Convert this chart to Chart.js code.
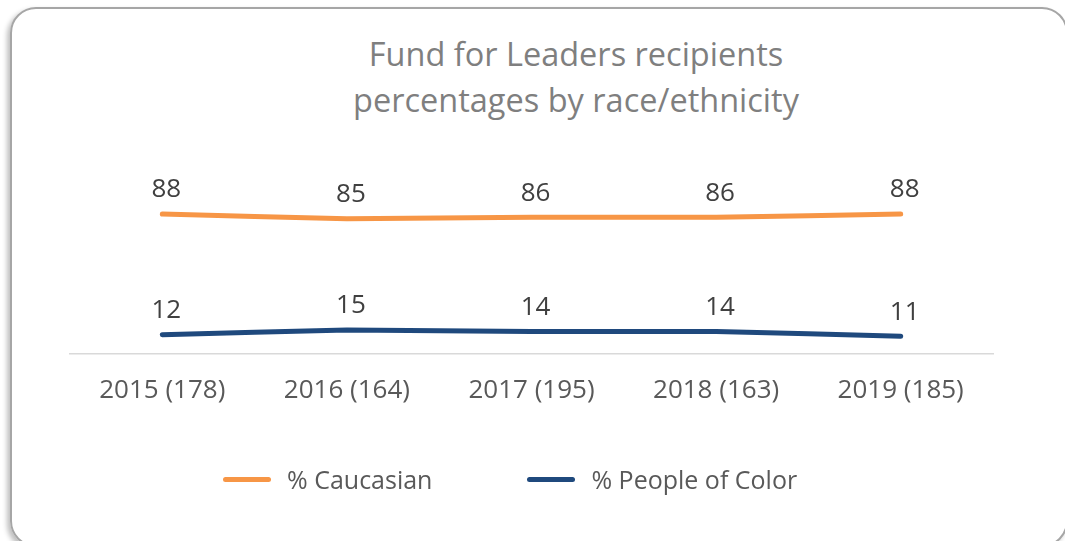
<!DOCTYPE html>
<html>
<head>
<meta charset="utf-8">
<script src="https://cdn.jsdelivr.net/npm/chart.js@4"></script>
<style>
  html, body { margin: 0; padding: 0; background: #fff; }
  body { width: 1065px; height: 541px; position: relative; overflow: hidden; font-family: "Open Sans", sans-serif; }
  .frame {
    position: absolute; left: 10px; top: 7px; width: 1058px; height: 540px;
    border: 2px solid #a6a6a6; border-radius: 26px; box-sizing: border-box;
    box-shadow: -3px 3px 5px rgba(0,0,0,0.25);
  }
  .title {
    position: absolute; left: 226px; width: 700px; top: 31px; text-align: center;
    color: #7f7f7f; font-size: 32.5px; line-height: 46px;
  }
  .wrap { position: absolute; left: 0; top: 0; width: 1065px; height: 541px; }
  #legend { position: absolute; top: 462px; left: 223px; display: flex; align-items: center; color: #595959; font-size: 25px; }
  #legend .item { display: flex; align-items: center; margin-right: 95px; }
  #legend .line { width: 48px; height: 5px; border-radius: 3px; margin-right: 16px; }
</style>
</head>
<body>
<div class="frame"></div>
<div class="title">Fund for Leaders recipients<br>percentages by race/ethnicity</div>
<div class="wrap"><canvas id="raceChart"></canvas></div>
<div id="legend"></div>
<script>
const categories = ["2015 (178)", "2016 (164)", "2017 (195)", "2018 (163)", "2019 (185)"];
const caucasian = [88, 85, 86, 86, 88];
const peopleOfColor = [12, 15, 14, 14, 11];

// little plugin to write the value above each point
const valueLabels = {
  id: "valueLabels",
  afterDatasetsDraw(chart) {
    const ctx = chart.ctx;
    ctx.save();
    ctx.font = "26px 'Open Sans'";
    ctx.fillStyle = "#404040";
    ctx.textAlign = "center";
    ctx.textBaseline = "middle";
    chart.data.datasets.forEach(function (ds, i) {
      chart.getDatasetMeta(i).data.forEach(function (pt, j) {
        ctx.fillText(ds.data[j], pt.x + 4, pt.y - 24);
      });
    });
    ctx.restore();
  }
};

document.addEventListener("DOMContentLoaded", function () {
  const ctx = document.getElementById("raceChart");
  const chart = new Chart(ctx, {
    type: "line",
    data: {
      labels: categories,
      datasets: [
        {
          label: "% Caucasian",
          data: caucasian,
          borderColor: "#f79646",
          backgroundColor: "#f79646",
        },
        {
          label: "% People of Color",
          data: peopleOfColor,
          borderColor: "#1f497d",
          backgroundColor: "#1f497d",
        },
      ],
    },
    options: {
      responsive: true,
      maintainAspectRatio: false,
      animation: false,
      layout: { padding: { left: 70, right: 72, top: 195, bottom: 122 } },
      elements: {
        line: { borderWidth: 5, tension: 0.1, borderCapStyle: "round", borderJoinStyle: "round" },
        point: { radius: 0, hoverRadius: 0 },
      },
      scales: {
        x: {
          offset: true,
          grid: { display: false },
          border: { color: "#d9d9d9", width: 1.5 },
          ticks: { color: "#595959", font: { family: "Open Sans", size: 26 }, padding: 13 },
        },
        y: {
          display: false,
          min: 0,
          max: 100,
        },
      },
      plugins: {
        legend: { display: false },
        tooltip: { enabled: false },
      },
    },
    plugins: [valueLabels],
  });

  const legend = document.getElementById("legend");
  chart.data.datasets.forEach(function (ds) {
    const item = document.createElement("div");
    item.className = "item";
    const line = document.createElement("span");
    line.className = "line";
    line.style.background = ds.borderColor;
    const text = document.createElement("span");
    text.textContent = ds.label;
    item.appendChild(line);
    item.appendChild(text);
    legend.appendChild(item);
  });
});
</script>
</body>
</html>
